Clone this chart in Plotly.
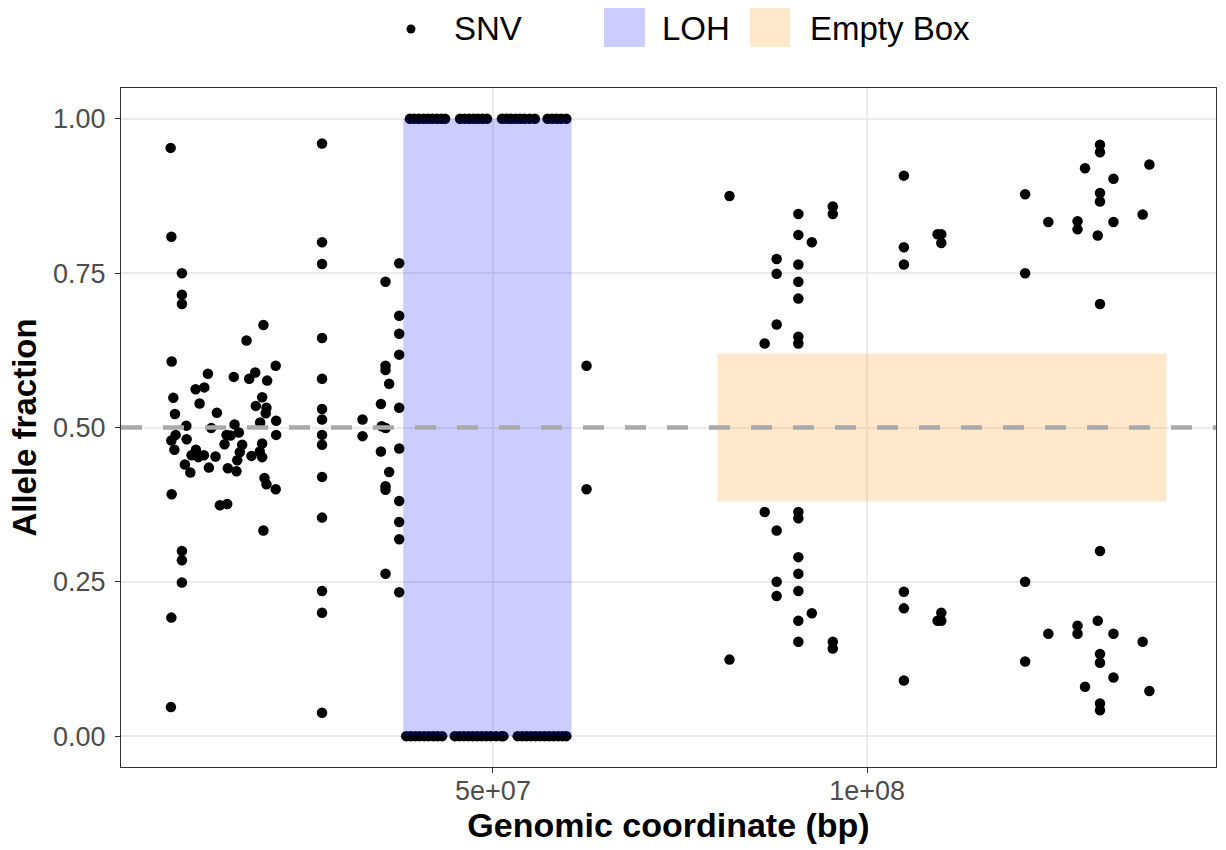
import plotly.graph_objects as go

# ---------------- data ----------------
# SNVs outside the LOH segment: position (Mb) and allele fraction
snv_pos_mb = [
    # cluster 1
    6.93, 7.03, 8.44, 8.44, 8.44, 19.33, 17.07, 7.07, 20.97, 11.91, 18.23, 17.43, 15.37, 19.83,
    10.27, 11.43, 7.29, 10.80, 19.16, 18.31, 19.73, 19.64, 7.51, 13.11, 9.03, 12.36, 15.47, 18.89,
    21.03, 7.60, 7.03, 9.07, 7.43, 14.40, 14.93, 16.04, 14.13, 16.49, 21.03, 19.16, 10.31, 9.73,
    10.63, 11.37, 12.93, 8.84, 9.56, 12.04, 16.17, 15.83, 14.57, 15.73, 17.73, 18.84, 19.16, 19.47,
    19.73, 20.97, 7.07, 13.51, 14.49, 19.33, 8.44, 8.44, 8.44, 7.03, 6.97,
    # cluster 2
    27.16, 27.16, 27.16, 37.47, 35.64, 37.47, 37.47, 27.16, 37.47, 35.64, 35.64, 36.13, 27.16,
    35.03, 37.47, 27.16, 27.16, 32.57, 35.13, 35.67, 27.16, 27.16, 32.57, 35.03, 37.47, 27.16,
    36.13, 35.64, 35.64, 37.47, 27.16, 37.47, 37.47, 35.64, 27.16, 37.47, 27.16, 27.16,
    # after LOH
    62.5, 62.5,
    # cluster 3
    81.6, 81.6,
    95.4, 95.4, 95.4, 95.4,
    90.8, 90.8, 90.8, 90.8, 90.8, 90.8, 90.8, 90.8, 90.8, 90.8, 90.8, 90.8, 90.8, 90.8,
    92.6, 92.6,
    87.9, 87.9, 87.9, 87.9, 87.9, 87.9,
    86.3, 86.3,
    # cluster 4
    104.9, 104.9, 104.9, 104.9, 104.9, 104.9,
    109.4, 109.4,
    109.9, 109.9, 109.9, 109.9,
    # cluster 5
    131.1, 131.1, 131.1, 131.1, 131.1, 131.1, 131.1, 131.1, 131.1, 131.1,
    129.1, 129.1,
    137.7, 137.7,
    132.9, 132.9, 132.9, 132.9,
    121.1, 121.1, 121.1, 121.1,
    124.2, 124.2,
    128.1, 128.1, 128.1, 128.1,
    136.8, 136.8,
    130.8, 130.8,
]
snv_af = [
    # cluster 1
    0.953, 0.809, 0.750, 0.715, 0.700, 0.666, 0.641, 0.607, 0.600, 0.587, 0.589, 0.579, 0.582, 0.576,
    0.562, 0.565, 0.548, 0.539, 0.549, 0.535, 0.532, 0.523, 0.522, 0.524, 0.503, 0.499, 0.505, 0.508,
    0.511, 0.488, 0.479, 0.481, 0.464, 0.488, 0.487, 0.492, 0.473, 0.472, 0.488, 0.474, 0.464, 0.455,
    0.452, 0.455, 0.453, 0.440, 0.427, 0.435, 0.460, 0.447, 0.434, 0.429, 0.454, 0.461, 0.452, 0.418,
    0.408, 0.400, 0.392, 0.374, 0.376, 0.333, 0.300, 0.285, 0.249, 0.192, 0.047,
    # cluster 2
    0.960, 0.800, 0.765, 0.766, 0.736, 0.681, 0.652, 0.645, 0.618, 0.600, 0.593, 0.571, 0.579,
    0.538, 0.532, 0.530, 0.513, 0.513, 0.502, 0.499, 0.488, 0.472, 0.486, 0.461, 0.466, 0.420,
    0.428, 0.405, 0.399, 0.381, 0.354, 0.347, 0.319, 0.263, 0.235, 0.233, 0.200, 0.038,
    # after LOH
    0.600, 0.400,
    # cluster 3
    0.875, 0.124,
    0.858, 0.846, 0.153, 0.142,
    0.846, 0.812, 0.764, 0.736, 0.709, 0.647, 0.636, 0.363, 0.353, 0.290, 0.263, 0.235, 0.187, 0.153,
    0.800, 0.199,
    0.773, 0.749, 0.667, 0.333, 0.250, 0.227,
    0.636, 0.363,
    # cluster 4
    0.908, 0.792, 0.764, 0.234, 0.207, 0.090,
    0.813, 0.187,
    0.813, 0.799, 0.200, 0.187,
    # cluster 5
    0.958, 0.946, 0.880, 0.866, 0.700, 0.300, 0.133, 0.119, 0.053, 0.042,
    0.920, 0.080,
    0.926, 0.073,
    0.903, 0.833, 0.166, 0.095,
    0.878, 0.750, 0.250, 0.121,
    0.833, 0.166,
    0.834, 0.821, 0.179, 0.166,
    0.845, 0.153,
    0.811, 0.187,
]

# SNVs inside the LOH segment (allele fraction 1 or 0)
loh_top_pos_mb = [38.9, 39.5, 40.1, 40.7, 41.3, 41.9, 42.5, 43.1, 43.6,
                  45.6, 46.2, 46.8, 47.4, 48.0, 48.6, 49.2,
                  51.2, 51.8, 52.4, 53.0, 53.6, 54.2, 54.9, 55.6,
                  57.3, 57.9, 58.5, 59.1, 59.8]
loh_bottom_pos_mb = [38.4, 39.0, 39.6, 40.2, 40.8, 41.4, 42.0, 42.6, 43.2,
                     44.9, 45.5, 46.1, 46.7, 47.3, 47.9, 48.5, 49.1, 49.7, 50.4, 51.1, 51.4,
                     53.3, 53.9, 54.5, 55.1, 55.7, 56.3, 56.9, 57.5, 58.1, 58.7, 59.3, 59.8]
loh_top_af = [1.0] * len(loh_top_pos_mb)
loh_bottom_af = [0.0] * len(loh_bottom_pos_mb)

# Regions
loh_region = (38.0e6, 60.5e6)            # x start, x end
loh_af = (0.0, 1.0)
empty_box_region = (80.0e6, 140.0e6)
empty_box_af = (0.38, 0.62)
expected_af = 0.5

x_tick_vals = [5e7, 1e8]
x_tick_text = ["5e+07", "1e+08"]
y_tick_vals = [0.0, 0.25, 0.5, 0.75, 1.0]
y_tick_text = ["0.00", "0.25", "0.50", "0.75", "1.00"]

# ---------------- figure ----------------
FONT = "Liberation Sans, Arial, Helvetica, sans-serif"
LOH_COLOR = "rgba(0,0,255,0.2)"
BOX_COLOR = "rgba(255,140,0,0.2)"

fig = go.Figure()

fig.add_trace(go.Scatter(
    x=[p * 1e6 for p in snv_pos_mb + loh_top_pos_mb + loh_bottom_pos_mb],
    y=snv_af + loh_top_af + loh_bottom_af,
    mode="markers", marker=dict(color="black", size=10.5),
    name="SNV", showlegend=False,
))

shapes = [
    dict(type="rect", xref="x", yref="y", x0=loh_region[0], x1=loh_region[1],
         y0=loh_af[0], y1=loh_af[1], fillcolor=LOH_COLOR, line=dict(width=0), layer="above"),
    dict(type="rect", xref="x", yref="y", x0=empty_box_region[0], x1=empty_box_region[1],
         y0=empty_box_af[0], y1=empty_box_af[1], fillcolor=BOX_COLOR, line=dict(width=0), layer="above"),
    dict(type="line", xref="paper", yref="y", x0=0, x1=1, y0=expected_af, y1=expected_af,
         line=dict(color="#A9A9A9", width=4.5, dash="21px,21px"), layer="above"),
    # manual legend keys (paper coordinates, above the panel)
    dict(type="circle", xref="paper", yref="paper", x0=0.2607, x1=0.2689, y0=1.0803, y1=1.0936,
         fillcolor="black", line=dict(width=0)),
    dict(type="rect", xref="paper", yref="paper", x0=0.4411, x1=0.4785, y0=1.0604, y1=1.1178,
         fillcolor=LOH_COLOR, line=dict(width=0)),
    dict(type="rect", xref="paper", yref="paper", x0=0.5744, x1=0.6110, y0=1.0604, y1=1.1178,
         fillcolor=BOX_COLOR, line=dict(width=0)),
]

annotations = [
    dict(text="SNV", x=0.3023, y=1.0869, xref="paper", yref="paper", xanchor="left", yanchor="middle",
         showarrow=False, font=dict(size=33, color="black", family=FONT)),
    dict(text="LOH", x=0.4922, y=1.0869, xref="paper", yref="paper", xanchor="left", yanchor="middle",
         showarrow=False, font=dict(size=33, color="black", family=FONT)),
    dict(text="Empty Box", x=0.6274, y=1.0869, xref="paper", yref="paper", xanchor="left", yanchor="middle",
         showarrow=False, font=dict(size=33, color="black", family=FONT)),
]

fig.update_layout(
    width=1226, height=850,
    margin=dict(l=121, r=10, t=88, b=83, autoexpand=False),
    paper_bgcolor="white", plot_bgcolor="white",
    font=dict(family=FONT, color="black"),
    shapes=shapes, annotations=annotations,
    showlegend=False,
)
fig.update_xaxes(
    automargin=False,
    range=[0.3e6, 146.6e6], tickvals=x_tick_vals, ticktext=x_tick_text,
    showgrid=True, gridcolor="#EBEBEB", gridwidth=1.6, zeroline=False,
    showline=True, mirror=True, linecolor="#333333", linewidth=1.2,
    ticks="outside", ticklen=5, tickcolor="#333333", tickwidth=1.2,
    ticklabelstandoff=-6,
    tickfont=dict(size=27, color="#4D4D4D", family=FONT),
    title=dict(text="Genomic coordinate (bp)", font=dict(size=34, color="black", family=FONT, weight="bold"),
               standoff=8),
)
fig.update_yaxes(
    automargin=False,
    range=[-0.05, 1.05], tickvals=y_tick_vals, ticktext=y_tick_text,
    showgrid=True, gridcolor="#EBEBEB", gridwidth=1.6, zeroline=False,
    showline=True, mirror=True, linecolor="#333333", linewidth=1.2,
    ticks="outside", ticklen=5, tickcolor="#333333", tickwidth=1.2,
    ticklabelstandoff=4,
    tickfont=dict(size=27, color="#4D4D4D", family=FONT),
    title=dict(text="Allele fraction", font=dict(size=33, color="black", family=FONT, weight="bold"),
               standoff=6),
)

fig.write_html(
    "out.html",
    config={"displayModeBar": False},
    post_script="document.body.style.margin='0';document.body.style.padding='0';"
                "document.documentElement.style.overflow='hidden';",
)
